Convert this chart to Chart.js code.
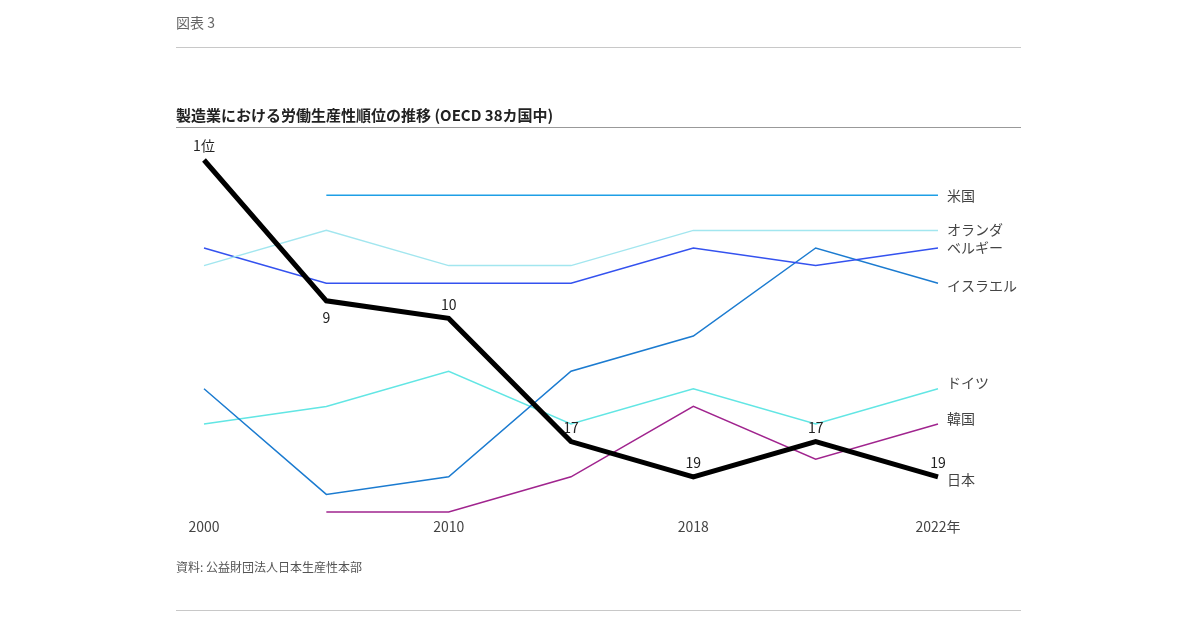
<!DOCTYPE html>
<html lang="ja">
<head>
<meta charset="utf-8">
<script src="https://cdn.jsdelivr.net/npm/chart.js@4.4.1/dist/chart.umd.min.js"></script>
<style>
  html, body { margin: 0; padding: 0; background: #fff; }
  body { width: 1200px; height: 630px; position: relative; overflow: hidden;
         font-family: "Noto Sans CJK JP", "Noto Sans", sans-serif; }
  #wrap { position: absolute; left: 0; top: 0; width: 1200px; height: 630px; }
  .fig { position: absolute; left: 176px; top: 12px; font-size: 14px; color: #666; }
  .rule1 { position: absolute; left: 176px; top: 47px; width: 845px; height: 1px; background: #c8c8c8; }
  .title { position: absolute; left: 176px; top: 104px; font-size: 15px; font-weight: bold; color: #222; }
  .rule2 { position: absolute; left: 176px; top: 127px; width: 845px; height: 1px; background: #999; }
  .src { position: absolute; left: 176px; top: 558px; font-size: 12px; color: #555; }
  .rule3 { position: absolute; left: 176px; top: 610px; width: 845px; height: 1px; background: #c8c8c8; }
</style>
</head>
<body>
<div id="wrap"><canvas id="c" width="1200" height="630"></canvas></div>
<div class="fig">図表 3</div>
<div class="rule1"></div>
<div class="title">製造業における労働生産性順位の推移 (OECD 38カ国中)</div>
<div class="rule2"></div>
<div class="src">資料: 公益財団法人日本生産性本部</div>
<div class="rule3"></div>
<script>
// ---- data ----
const years = ['2000', '2005', '2010', '2015', '2018', '2020', '2022'];
const tickLabels = ['2000', '', '2010', '', '2018', '', '2022年'];
const japan = [1, 9, 10, 17, 19, 17, 19];
const japanLabels = ['1位', '9', '10', '17', '19', '17', '19'];
const usa = [null, 3, 3, 3, 3, 3, 3];
const netherlands = [7, 5, 7, 7, 5, 5, 5];
const belgium = [6, 8, 8, 8, 6, 7, 6];
const israel = [14, 20, 19, 13, 11, 6, 8];
const germany = [16, 15, 13, 16, 14, 16, 14];
const korea = [null, 21, 21, 19, 15, 18, 16];

// ---- styles ----
const labelPlace = ['above', 'below', 'above', 'above', 'above', 'above', 'above'];
const endLabelOffset = { '米国': 0, 'オランダ': -1, 'ベルギー': 0, 'イスラエル': 2, 'ドイツ': -6, '韓国': -5, '日本': 3 };

const FONT = '"Noto Sans CJK JP", "Noto Sans", sans-serif';

function ds(label, data, color, width) {
  return { label, data, borderColor: color, backgroundColor: color, borderWidth: width,
           pointRadius: 0, pointHoverRadius: 0, tension: 0, fill: false, clip: false,
           spanGaps: false, borderJoinStyle: 'miter', borderCapStyle: 'butt' };
}

const labelPlugin = {
  id: 'labels',
  afterDatasetsDraw(chart) {
    const ctx = chart.ctx;
    ctx.save();
    ctx.font = '14px ' + FONT;
    // end labels
    chart.data.datasets.forEach((d, i) => {
      const meta = chart.getDatasetMeta(i);
      const last = meta.data[meta.data.length - 1];
      ctx.fillStyle = '#444';
      ctx.textAlign = 'left';
      ctx.textBaseline = 'middle';
      ctx.fillText(d.label, last.x + 9, last.y + (endLabelOffset[d.label] || 0));
    });
    // Japan value labels
    const jm = chart.getDatasetMeta(0);
    ctx.fillStyle = '#222';
    ctx.textAlign = 'center';
    jm.data.forEach((p, i) => {
      const t = japanLabels[i];
      if (labelPlace[i] === 'below') {
        ctx.textBaseline = 'top';
        ctx.fillText(t, p.x, p.y + 10);
      } else {
        ctx.textBaseline = 'bottom';
        ctx.fillText(t, p.x, p.y - 7);
      }
    });
    ctx.restore();
  }
};

new Chart(document.getElementById('c'), {
  type: 'line',
  data: {
    labels: years,
    datasets: [
      ds('日本', japan, '#000000', 5),
      ds('米国', usa, '#1e9fe6', 1.5),
      ds('オランダ', netherlands, '#a2e6ef', 1.5),
      ds('ベルギー', belgium, '#3452ef', 1.5),
      ds('イスラエル', israel, '#1b7bd0', 1.5),
      ds('ドイツ', germany, '#62e6e4', 1.5),
      ds('韓国', korea, '#a0248e', 1.5)
    ]
  },
  options: {
    responsive: false,
    animation: false,
    devicePixelRatio: 1,
    layout: { padding: { left: 204, right: 262, top: 160, bottom: 88 } },
    plugins: { legend: { display: false }, tooltip: { enabled: false } },
    scales: {
      x: {
        type: 'category',
        offset: false,
        grid: { display: false, drawTicks: false },
        border: { display: false },
        afterFit(s) { s.height = 30; },
        ticks: {
          autoSkip: false, maxRotation: 0, padding: 6,
          color: '#444', font: { size: 14, family: FONT },
          callback: (v, i) => tickLabels[i]
        }
      },
      y: {
        display: false,
        reverse: true,
        min: 1,
        max: 21
      }
    }
  },
  plugins: [labelPlugin]
});
</script>
</body>
</html>
